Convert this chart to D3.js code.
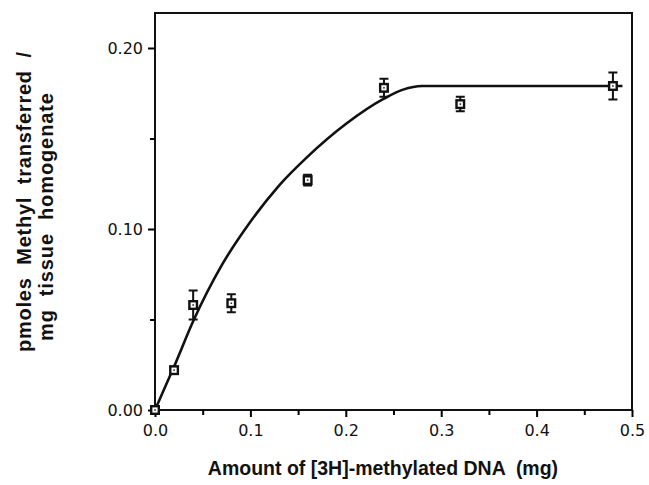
<!DOCTYPE html>
<html>
<head>
<meta charset="utf-8">
<script src="https://cdn.jsdelivr.net/npm/d3@7"></script>
<style>
  body { margin: 0; background: #fff; }
  .tick text { font-family: "DejaVu Sans", sans-serif; font-size: 16px; fill: #111; }
  .axis-title { font-family: "Liberation Sans", Arial, sans-serif; font-weight: bold; font-size: 19.5px; fill: #111; white-space: pre; }
</style>
</head>
<body>
<svg width="649" height="485"></svg>
<script>
// measured points (mg DNA, pmoles / mg tissue)
const dnaAmount = [0.0, 0.02, 0.04, 0.08, 0.16, 0.24, 0.32, 0.48];
const methylTransferred = [0.0, 0.022, 0.058, 0.059, 0.127, 0.178, 0.169, 0.179];
const errorSize = [0.0, 0.002, 0.008, 0.005, 0.003, 0.005, 0.004, 0.0075];

// fitted curve
const curveX = [0.0, 0.02, 0.04, 0.07, 0.1, 0.13, 0.16, 0.2, 0.24, 0.26, 0.28, 0.3, 0.4, 0.49];
const curveY = [0.0, 0.024, 0.049, 0.080, 0.104, 0.124, 0.140, 0.158, 0.172, 0.177, 0.179, 0.179, 0.179, 0.179];

const xTicks = [0, 0.1, 0.2, 0.3, 0.4, 0.5];
const yTicks = [0, 0.1, 0.2];

const svg = d3.select('svg');
const plotL = 155, plotR = 632, plotT = 13, plotB = 410;

const x = d3.scaleLinear().domain([0, 0.5]).range([plotL, plotR]);
const y = d3.scaleLinear().domain([0, 0.2]).range([plotB, 48]);

// frame
svg.append('rect')
  .attr('x', plotL).attr('y', plotT)
  .attr('width', plotR - plotL).attr('height', plotB - plotT)
  .attr('fill', 'none').attr('stroke', '#111').attr('stroke-width', 2);

// minor ticks
svg.append('g')
  .attr('transform', `translate(0,${plotB})`)
  .call(d3.axisBottom(x).tickValues(d3.range(0.05, 0.5, 0.1)).tickSize(5).tickFormat(''))
  .call(g => g.select('.domain').remove())
  .call(g => g.selectAll('line').attr('stroke-width', 2));
svg.append('g')
  .attr('transform', `translate(${plotL},0)`)
  .call(d3.axisLeft(y).tickValues([0.05, 0.15]).tickSize(5).tickFormat(''))
  .call(g => g.select('.domain').remove())
  .call(g => g.selectAll('line').attr('stroke-width', 2));

// major ticks
svg.append('g')
  .attr('transform', `translate(0,${plotB})`)
  .call(d3.axisBottom(x).tickValues(xTicks).tickSize(7).tickPadding(8).tickFormat(d3.format('.1f')))
  .call(g => g.select('.domain').remove())
  .call(g => g.selectAll('line').attr('stroke-width', 2));
svg.append('g')
  .attr('transform', `translate(${plotL},0)`)
  .call(d3.axisLeft(y).tickValues(yTicks).tickSize(7).tickPadding(5).tickFormat(d3.format('.2f')))
  .call(g => g.select('.domain').remove())
  .call(g => g.selectAll('line').attr('stroke-width', 2));

// curve
const pts = curveX.map((d, i) => [d, curveY[i]]);
svg.append('path')
  .datum(pts)
  .attr('fill', 'none')
  .attr('stroke', '#111')
  .attr('stroke-width', 2.6)
  .attr('d', d3.line().x(d => x(d[0])).y(d => y(d[1])).curve(d3.curveMonotoneX));

// error bars + markers
const data = dnaAmount.map((d, i) => ({ x: d, y: methylTransferred[i], e: errorSize[i] }));
const pt = svg.append('g').selectAll('g').data(data).enter().append('g');

pt.filter(d => d.e > 0).append('path')
  .attr('fill', 'none').attr('stroke', '#111').attr('stroke-width', 2)
  .attr('d', d => {
    const cx = x(d.x), y1 = y(d.y + d.e), y2 = y(d.y - d.e);
    return `M${cx - 4.5},${y1}H${cx + 4.5}M${cx},${y1}V${y2}M${cx - 4.5},${y2}H${cx + 4.5}`;
  });

pt.append('rect')
  .attr('x', d => x(d.x) - 3.8).attr('y', d => y(d.y) - 3.8)
  .attr('width', 7.6).attr('height', 7.6)
  .attr('fill', '#fff').attr('stroke', '#111').attr('stroke-width', 2.4);

pt.append('rect')
  .attr('x', d => x(d.x) - 0.8).attr('y', d => y(d.y) - 0.8)
  .attr('width', 1.6).attr('height', 1.6)
  .attr('fill', '#333');

// axis titles
svg.append('text')
  .attr('class', 'axis-title')
  .attr('x', 383).attr('y', 475)
  .attr('text-anchor', 'middle')
  .text('Amount of [3H]-methylated DNA  (mg)');

const yt = svg.append('text')
  .attr('class', 'axis-title')
  .style('font-size', '20px')
  .attr('transform', 'rotate(-90)')
  .attr('text-anchor', 'middle');
yt.append('tspan').attr('x', -202).attr('y', 31)
  .attr('textLength', 300).attr('lengthAdjust', 'spacing')
  .text('pmoles  Methyl  transferred  /');
yt.append('tspan').attr('x', -217).attr('y', 53)
  .attr('textLength', 248).attr('lengthAdjust', 'spacing')
  .text('mg  tissue  homogenate');
</script>
</body>
</html>
